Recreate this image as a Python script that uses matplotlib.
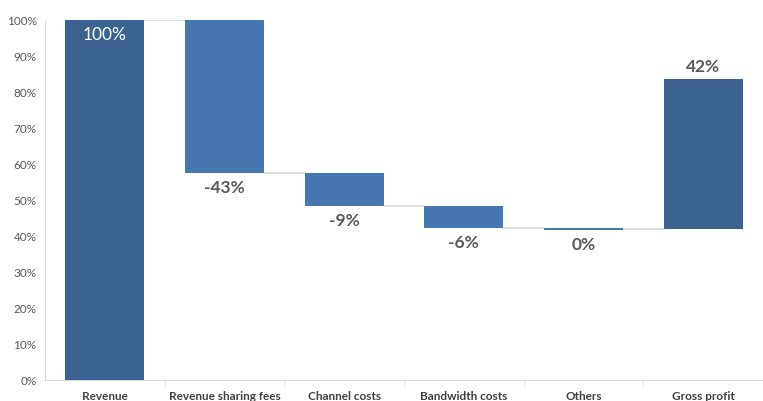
import matplotlib.pyplot as plt
from matplotlib.ticker import FixedLocator, NullFormatter, PercentFormatter

plt.rcParams["font.family"] = ["Lato", "DejaVu Sans"]

categories = ["Revenue", "Revenue sharing fees", "Channel costs", "Bandwidth costs", "Others", "Gross profit"]
bottoms = [0, 57.5, 48.3, 42.3, 41.8, 41.9]
tops = [100, 100, 57.5, 48.3, 42.3, 83.6]
labels = ["100%", "-43%", "-9%", "-6%", "0%", "42%"]
connector_levels = [100, 57.5, 48.3, 42.3, 41.9]

dark = "#3C6291"
light = "#4677B0"
colors = [dark, light, light, light, light, dark]

fig = plt.figure(figsize=(7.63, 4.01), dpi=100)
ax = fig.add_axes([0.059, 0.052, 0.941, 0.898])

x = list(range(len(categories)))
width = 0.66
heights = [t - b for t, b in zip(tops, bottoms)]
ax.bar(x, heights, bottom=bottoms, width=width, color=colors, zorder=3)

for i, level in enumerate(connector_levels):
    ax.plot([i + width / 2, i + 1 - width / 2], [level, level], color="#D9D9D9", lw=1.2, zorder=2)

for i, lab in enumerate(labels):
    if i == 0:
        ax.text(i, tops[i] - 2, lab, ha="center", va="top", color="white", fontsize=12.5)
    elif i == len(labels) - 1:
        ax.text(i, tops[i] + 1.2, lab, ha="center", va="bottom", color="#595959", fontsize=12.5, fontweight="bold")
    else:
        ax.text(i, bottoms[i] - 2, lab, ha="center", va="top", color="#595959", fontsize=12.5, fontweight="bold")

ax.set_xlim(-0.5, len(categories) - 0.5)
ax.set_ylim(0, 100)
ax.set_yticks(range(0, 101, 10))
ax.yaxis.set_major_formatter(PercentFormatter(decimals=0))
ax.tick_params(axis="y", length=0, labelsize=8.5, labelcolor="#595959", pad=6)

ax.set_xticks(x)
ax.set_xticklabels(categories, fontsize=8.5, fontweight="bold", color="#404040")
ax.tick_params(axis="x", length=0, pad=8)
ax.xaxis.set_minor_locator(FixedLocator([i + 0.5 for i in x[:-1]]))
ax.xaxis.set_minor_formatter(NullFormatter())
ax.tick_params(axis="x", which="minor", length=4, color="#D9D9D9", direction="out")

for side in ["top", "right"]:
    ax.spines[side].set_visible(False)
for side in ["left", "bottom"]:
    ax.spines[side].set_color("#D9D9D9")

fig.savefig("out.png", dpi=100)
